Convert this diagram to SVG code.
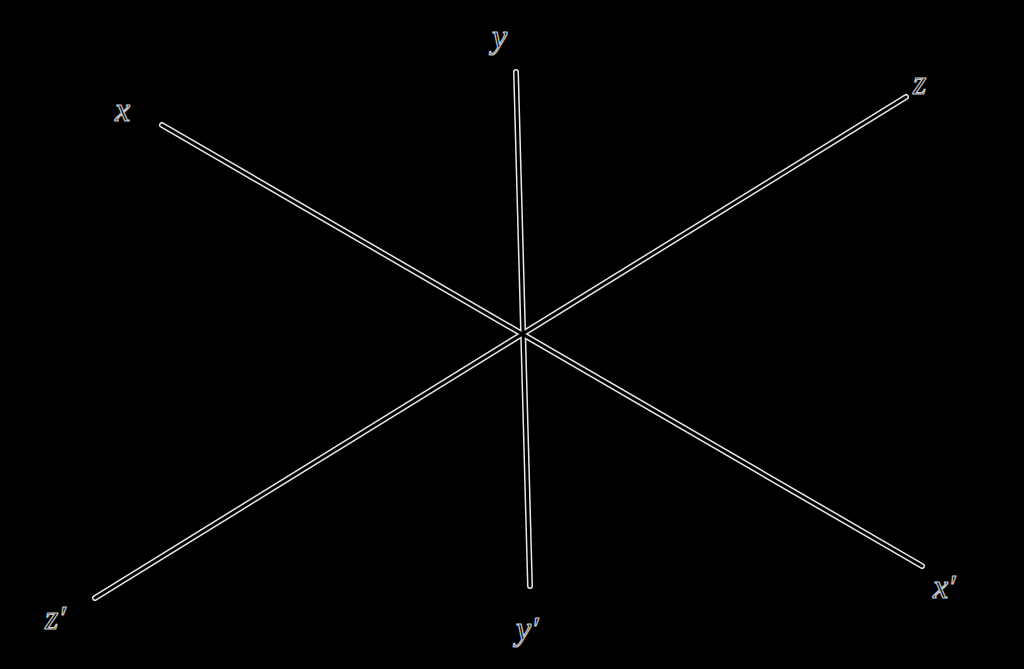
<svg xmlns="http://www.w3.org/2000/svg" width="1024" height="669" viewBox="0 0 1024 669">
<style>
.o{stroke:#e8e8e8;stroke-width:6;stroke-linecap:round;fill:none}
.i{stroke:#000;stroke-width:3;stroke-linecap:round;fill:none}
.lbl{font-family:"Liberation Serif",serif;font-style:italic;font-size:34px;fill:#000;stroke:#c8c8c8;stroke-width:1.2}
</style>
<rect width="1024" height="669" fill="#000"/>
<g id="connectors">
<line class="o" x1="162" y1="125" x2="922" y2="566"/>
<line class="o" x1="95" y1="598" x2="906" y2="97"/>
<line class="o" x1="516" y1="72" x2="530" y2="586"/>
<line class="i" x1="162" y1="125" x2="922" y2="566"/>
<line class="i" x1="95" y1="598" x2="906" y2="97"/>
<line class="i" x1="516" y1="72" x2="530" y2="586"/>
</g>
<g id="label-x"><text class="lbl" x="115" y="121">x</text></g>
<g id="label-x2"><text class="lbl" x="933" y="598">x′</text></g>
<g id="label-y"><text class="lbl" x="492" y="48">y</text></g>
<g id="label-y2"><text class="lbl" x="516" y="640">y′</text></g>
<g id="label-z"><text class="lbl" x="913" y="94">z</text></g>
<g id="label-z2"><text class="lbl" x="45" y="629">z′</text></g>
</svg>
